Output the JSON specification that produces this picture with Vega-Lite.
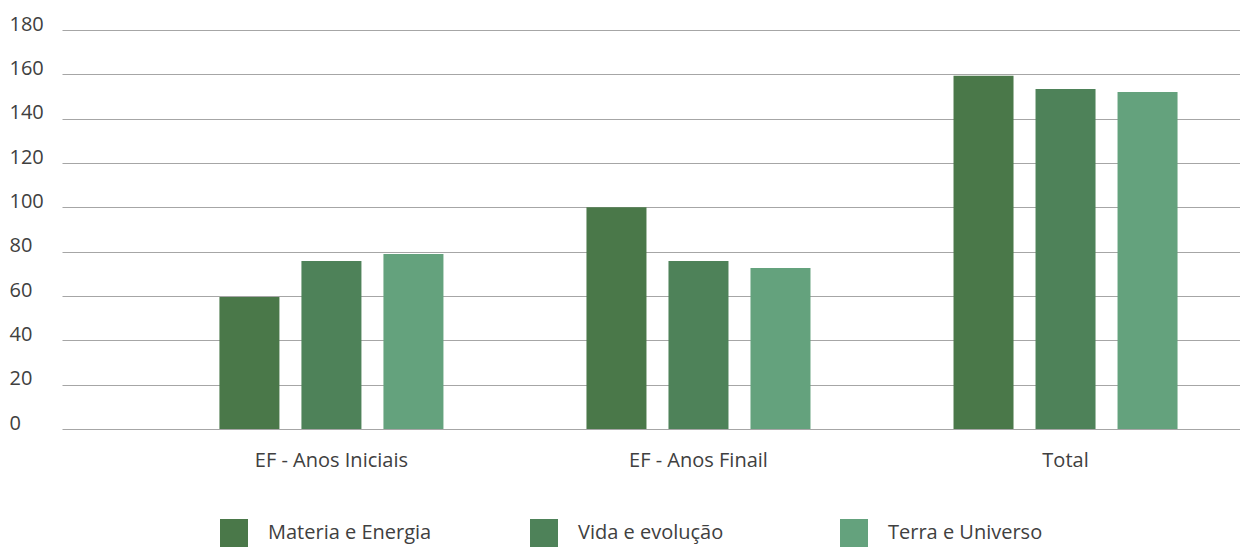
{
  "$schema": "https://vega.github.io/schema/vega-lite/v6.json",
  "width": 1178,
  "height": 399,
  "autosize": {"type": "none"},
  "padding": {"left": 62, "top": 30, "right": 0, "bottom": 118},
  "background": "white",
  "config": {"view": {"stroke": null}, "font": "Open Sans"},
  "data": {
    "values": [
      {"categoria": "EF - Anos Iniciais", "serie": "Materia e Energia", "valor": 59.5},
      {"categoria": "EF - Anos Iniciais", "serie": "Vida e evolução", "valor": 75.8},
      {"categoria": "EF - Anos Iniciais", "serie": "Terra e Universo", "valor": 78.9},
      {"categoria": "EF - Anos Finail", "serie": "Materia e Energia", "valor": 100},
      {"categoria": "EF - Anos Finail", "serie": "Vida e evolução", "valor": 75.8},
      {"categoria": "EF - Anos Finail", "serie": "Terra e Universo", "valor": 72.6},
      {"categoria": "Total", "serie": "Materia e Energia", "valor": 159.4},
      {"categoria": "Total", "serie": "Vida e evolução", "valor": 153.4},
      {"categoria": "Total", "serie": "Terra e Universo", "valor": 152}
    ]
  },
  "mark": {"type": "bar"},
  "encoding": {
    "x": {
      "field": "categoria",
      "type": "nominal",
      "sort": ["EF - Anos Iniciais", "EF - Anos Finail", "Total"],
      "scale": {"paddingInner": 0.1826, "paddingOuter": 0.196, "align": 0.83},
      "axis": {
        "title": null,
        "labelAngle": 0,
        "domain": false,
        "ticks": false,
        "tickSize": 0,
        "labelPadding": 21,
        "labelFontSize": 20,
        "labelColor": "#404040",
        "labelBaseline": "top",
        "labelLimit": 400
      }
    },
    "xOffset": {
      "field": "serie",
      "type": "nominal",
      "sort": ["Materia e Energia", "Vida e evolução", "Terra e Universo"],
      "scale": {"paddingInner": 0.2683, "paddingOuter": 0.4634}
    },
    "y": {
      "field": "valor",
      "type": "quantitative",
      "scale": {"domain": [0, 180]},
      "axis": {
        "title": null,
        "values": [0, 20, 40, 60, 80, 100, 120, 140, 160, 180],
        "domain": false,
        "ticks": false,
        "tickSize": 0,
        "labelAlign": "left",
        "labelPadding": 53,
        "labelBaseline": "alphabetic",
        "labelOffset": 0,
        "labelFontSize": 20,
        "labelColor": "#404040",
        "gridColor": "#A6A6A6",
        "gridWidth": 1.2
      }
    },
    "color": {
      "field": "serie",
      "type": "nominal",
      "sort": ["Materia e Energia", "Vida e evolução", "Terra e Universo"],
      "scale": {
        "domain": ["Materia e Energia", "Vida e evolução", "Terra e Universo"],
        "range": ["#4A7849", "#4E8259", "#64A27D"]
      },
      "legend": {
        "title": null,
        "orient": "none",
        "legendX": 158,
        "legendY": 489,
        "direction": "horizontal",
        "columns": 3,
        "gridAlign": "all",
        "symbolType": "square",
        "symbolSize": 784,
        "symbolStrokeWidth": 0,
        "labelOffset": 20,
        "labelLimit": 400,
        "columnPadding": 98,
        "labelFontSize": 20,
        "labelColor": "#404040",
        "padding": 0
      }
    }
  }
}
